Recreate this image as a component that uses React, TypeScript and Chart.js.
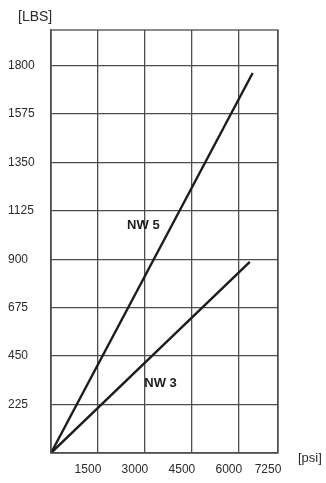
import { useEffect, useRef } from "react";
import { Chart, registerables } from "chart.js";

Chart.register(...registerables);

const psiTicks = [0, 1500, 3000, 4500, 6000, 7250];
const lbsTicks = [0, 225, 450, 675, 900, 1125, 1350, 1575, 1800];
const psiMax = 7250;
const lbsMax = 1965;

const seriesNames = ["NW 5", "NW 3"];
const nw5Psi = [0, 6440];
const nw5Lbs = [0, 1765];
const nw3Psi = [0, 6350];
const nw3Lbs = [0, 888];

const labelPsi = [2950, 3500];
const labelLbs = [1056, 321];

const xUnit = "[psi]";
const yUnit = "[LBS]";

const FONT = "'Liberation Sans', Arial, Helvetica, sans-serif";
const GRID = "#4d4d4d";
const INK = "#1c1c1c";

const annotPlugin = {
  id: "annot",
  afterDraw(chart: any) {
    const { ctx, chartArea, scales } = chart;
    const { left, right, top, bottom } = chartArea;
    ctx.save();
    ctx.strokeStyle = GRID;
    ctx.lineWidth = 1.3;
    ctx.strokeRect(left, top, right - left, bottom - top);

    ctx.fillStyle = "#2a2a2a";
    ctx.textBaseline = "middle";
    ctx.textAlign = "left";
    ctx.font = `14px ${FONT}`;
    ctx.fillText(yUnit, left - 33, top - 13);
    ctx.font = `13px ${FONT}`;
    ctx.fillText(xUnit, right + 20, bottom + 5);

    ctx.fillStyle = INK;
    ctx.textAlign = "center";
    ctx.font = `bold 13px ${FONT}`;
    seriesNames.forEach((name, i) => {
      const x = scales.x.getPixelForValue(labelPsi[i]);
      const y = scales.y.getPixelForValue(labelLbs[i]);
      ctx.fillText(name, x, y);
    });
    ctx.restore();
  },
};

export default function App() {
  const ref = useRef<HTMLCanvasElement | null>(null);

  useEffect(() => {
    if (!ref.current) return;
    const chart = new Chart(ref.current, {
      type: "line",
      data: {
        datasets: [
          {
            label: seriesNames[0],
            data: nw5Psi.map((x, i) => ({ x, y: nw5Lbs[i] })),
            borderColor: INK,
            borderWidth: 2.4,
            pointRadius: 0,
            fill: false,
          },
          {
            label: seriesNames[1],
            data: nw3Psi.map((x, i) => ({ x, y: nw3Lbs[i] })),
            borderColor: INK,
            borderWidth: 2.4,
            pointRadius: 0,
            fill: false,
          },
        ],
      },
      options: {
        animation: false,
        responsive: false,
        maintainAspectRatio: false,
        layout: { padding: { left: 8, top: 30, right: 48, bottom: 0 } },
        plugins: {
          legend: { display: false },
          tooltip: { enabled: false },
          title: { display: false },
        },
        scales: {
          x: {
            type: "linear",
            min: 0,
            max: psiMax,
            afterBuildTicks: (scale: any) => {
              scale.ticks = psiTicks.map((v) => ({ value: v }));
            },
            afterFit: (scale: any) => {
              scale.height = 30;
            },
            grid: { color: GRID, lineWidth: 1.3, drawTicks: false },
            border: { color: GRID, width: 1.3 },
            ticks: {
              padding: 9,
              labelOffset: -10,
              maxRotation: 0,
              autoSkip: false,
              color: "#2a2a2a",
              font: { family: FONT, size: 12 },
              callback: (v: any) => (v === 0 ? "" : String(v)),
            },
          },
          y: {
            type: "linear",
            min: 0,
            max: lbsMax,
            afterBuildTicks: (scale: any) => {
              scale.ticks = lbsTicks.map((v) => ({ value: v }));
            },
            afterFit: (scale: any) => {
              scale.width = 43;
            },
            grid: { color: GRID, lineWidth: 1.3, drawTicks: false },
            border: { color: GRID, width: 1.3 },
            ticks: {
              crossAlign: "far",
              autoSkip: false,
              color: "#2a2a2a",
              font: { family: FONT, size: 12 },
              callback: (v: any) => (v === 0 ? "" : String(v)),
            },
          },
        },
      },
      plugins: [annotPlugin],
    });
    return () => chart.destroy();
  }, []);

  return (
    <div style={{ position: "absolute", left: 0, top: 0, width: 326, height: 483, background: "#fff" }}>
      <canvas ref={ref} width={326} height={483} style={{ display: "block", width: 326, height: 483 }} />
    </div>
  );
}
